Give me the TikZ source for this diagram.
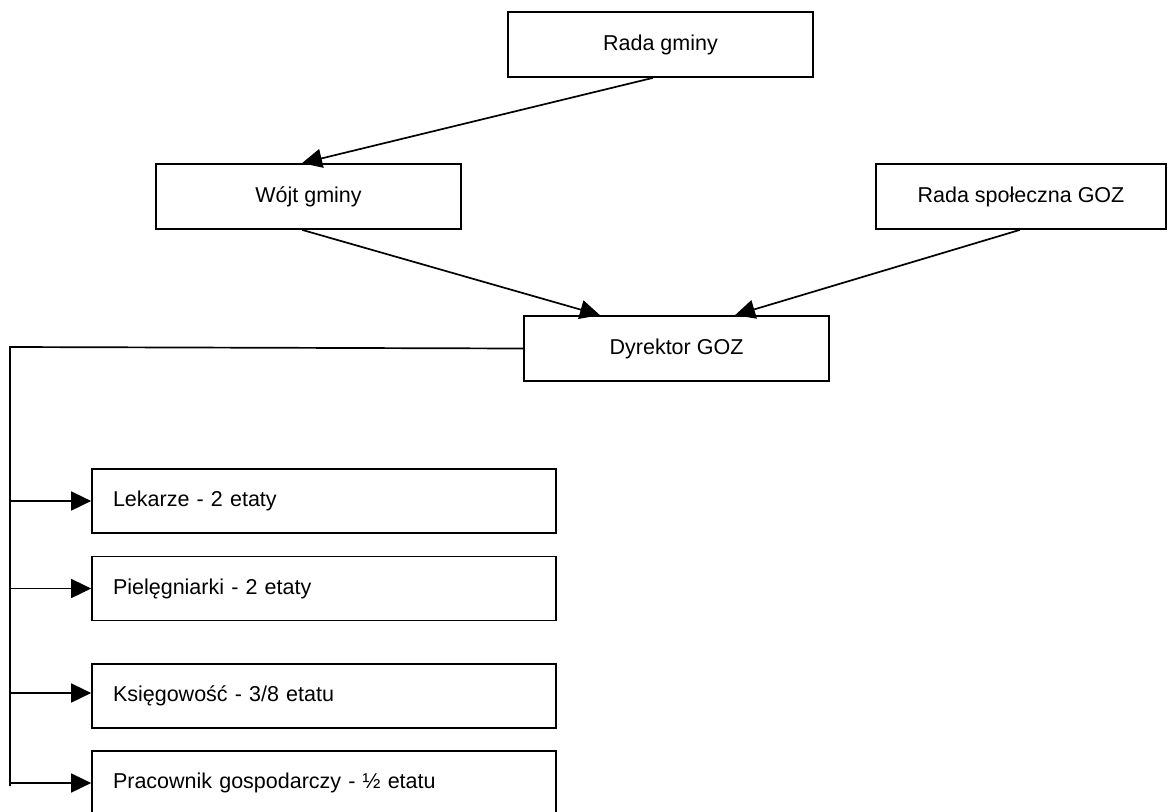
\documentclass[tikz,border=0pt]{standalone}
\usepackage{fontspec}
\setmainfont{Liberation Sans}
\usetikzlibrary{arrows.meta,calc}
\begin{document}
\begin{tikzpicture}[x=1pt,y=-1pt,
  every node/.style={font=\fontsize{21.5}{25}\selectfont},
  cbox/.style={draw,line width=1.7pt,rectangle,minimum height=65pt,inner sep=0pt,align=center},
  lbox/.style={draw,line width=1.7pt,rectangle,minimum height=64pt,inner ysep=0pt,inner xsep=21pt,text width=422pt,align=left},
  conn/.style={line width=1.7pt},
  arr/.style={conn,-{Triangle[length=20pt,width=19pt]}}]
\clip (0,0) rectangle (1169,811);
\fill[white] (0,0) rectangle (1169,811);
\node[cbox,minimum width=305pt] (radagminy) at (660.5,44.5) {Rada gminy};
\node[cbox,minimum width=305pt] (wojt) at (308.5,196.5) {Wójt gminy};
\node[cbox,minimum width=290pt] (radaspol) at (1021,196.5) {Rada społeczna GOZ};
\node[cbox,minimum width=305pt] (dyrektor) at (676.5,348.5) {Dyrektor GOZ};
\node[lbox] (lekarze) at (324,501) {Lekarze - 2 etaty};
\node[lbox] (piel) at (324,588.5) {Pielęgniarki - 2 etaty};
\node[lbox] (ksieg) at (324,696) {Księgowość - 3/8 etatu};
\node[lbox] (prac) at (324,783) {Pracownik gospodarczy - ½ etatu};
\coordinate (trunktop) at (10,347);
\coordinate (trunkbot) at (10,786);
\draw[arr] ([xshift=-7.5pt]radagminy.south) -- ([xshift=-6.5pt]wojt.north);
\draw[arr] ([xshift=-6.5pt]wojt.south) -- ([xshift=-76.5pt]dyrektor.north);
\draw[arr] ([xshift=-1pt]radaspol.south) -- ([xshift=58.5pt]dyrektor.north);
\draw[conn] (dyrektor.west) -- (trunktop) -- (trunkbot);
\draw[arr] (trunktop |- lekarze.west) -- (lekarze.west);
\draw[arr] (trunktop |- piel.west) -- (piel.west);
\draw[arr] ([yshift=3pt]trunktop |- ksieg.west) -- ([yshift=3pt]ksieg.west);
\draw[arr] (trunktop |- prac.west) -- (prac.west);
\end{tikzpicture}
\end{document}
